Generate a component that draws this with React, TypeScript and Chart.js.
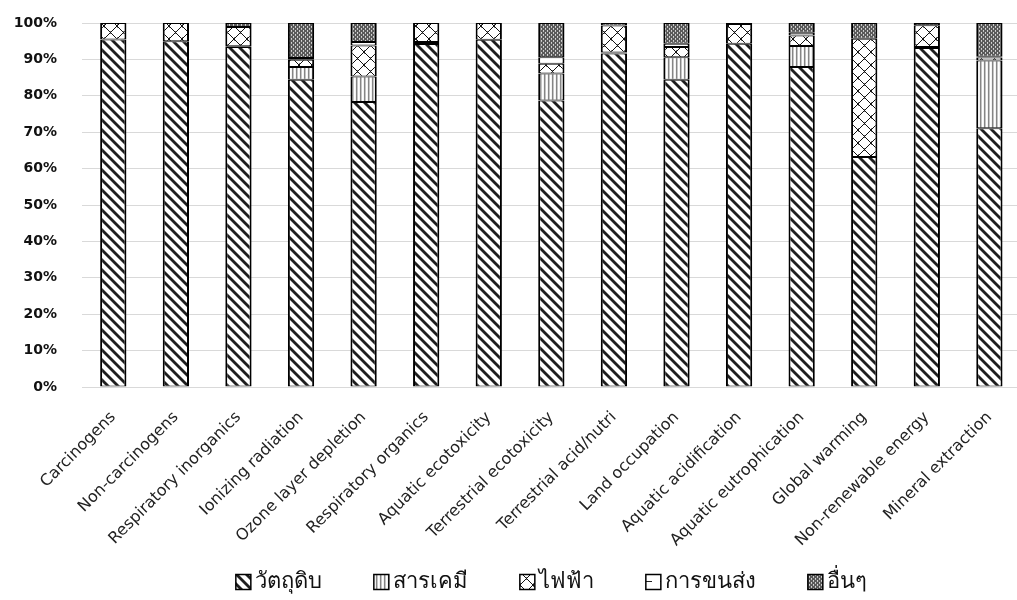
import React, { useEffect, useRef } from "react";
import { Chart, registerables } from "chart.js";

Chart.register(...registerables);

// Impact categories (x axis)
const categories = [
  "Carcinogens",
  "Non-carcinogens",
  "Respiratory inorganics",
  "Ionizing radiation",
  "Ozone layer depletion",
  "Respiratory organics",
  "Aquatic ecotoxicity",
  "Terrestrial ecotoxicity",
  "Terrestrial acid/nutri",
  "Land occupation",
  "Aquatic acidification",
  "Aquatic eutrophication",
  "Global warming",
  "Non-renewable energy",
  "Mineral extraction",
];

// Series names
const seriesNames = ["วัตถุดิบ", "สารเคมี", "ไฟฟ้า", "การขนส่ง", "อื่นๆ"];

// Share of each impact (%) per source
const rawMaterial = [95.5, 95.0, 93.4, 84.4, 78.3, 94.2, 95.4, 78.7, 91.6, 84.4, 94.3, 87.9, 63.2, 93.1, 71.1];
const chemicals = [0, 0, 0.2, 3.5, 7.0, 0.6, 0, 7.4, 0.3, 6.2, 0, 5.8, 0, 0.3, 18.6];
const electricity = [4.5, 5.0, 5.3, 2.0, 8.5, 5.2, 4.6, 2.7, 7.4, 2.8, 5.4, 2.9, 32.5, 6.0, 0.8];
const transport = [0, 0, 0, 0.5, 1.0, 0, 0, 1.8, 0, 0.9, 0, 0.7, 0, 0, 0.2];
const others = [0, 0, 1.1, 9.6, 5.2, 0, 0, 9.4, 0.7, 5.7, 0.3, 2.7, 4.3, 0.6, 9.3];

// Y axis ticks
const yTicks = [0, 10, 20, 30, 40, 50, 60, 70, 80, 90, 100];

function makeTile(w: number, h: number, paint: (ctx: CanvasRenderingContext2D) => void) {
  const c = document.createElement("canvas");
  c.width = w;
  c.height = h;
  const ctx = c.getContext("2d")!;
  paint(ctx);
  return ctx.createPattern(c, "repeat")!;
}

function px(ctx: CanvasRenderingContext2D, x: number, y: number, color: string) {
  ctx.fillStyle = color;
  ctx.fillRect(x, y, 1, 1);
}

// wide "\" stripes
function diagonalStripes() {
  const n = 10;
  return makeTile(n, n, (ctx) => {
    ctx.fillStyle = "#ffffff";
    ctx.fillRect(0, 0, n, n);
    for (let y = 0; y < n; y++) {
      for (let x = 0; x < n; x++) {
        const d = (((x - y) % n) + n) % n;
        if (d >= 1 && d <= 3) px(ctx, x, y, "#1e1e1e");
        else if (d === 0 || d === 4) px(ctx, x, y, "#8c8c8c");
      }
    }
  });
}

// narrow vertical lines
function verticalLines() {
  return makeTile(4, 1, (ctx) => {
    px(ctx, 0, 0, "#858585");
    px(ctx, 1, 0, "#c4c4c4");
    px(ctx, 2, 0, "#ffffff");
    px(ctx, 3, 0, "#f2f2f2");
  });
}

// outlined diamonds
function diamondLattice() {
  const n = 13;
  return makeTile(n, n, (ctx) => {
    ctx.fillStyle = "#ffffff";
    ctx.fillRect(0, 0, n, n);
    for (let i = 0; i < n; i++) {
      px(ctx, i, i, "#111111");
      px(ctx, n - 1 - i, i, "#111111");
    }
    px(ctx, 6, 5, "#777777");
    px(ctx, 6, 7, "#777777");
    px(ctx, 0, 1, "#777777");
    px(ctx, 0, n - 2, "#777777");
  });
}

// white with a few short dashes
function sparseDashes() {
  return makeTile(14, 14, (ctx) => {
    ctx.fillStyle = "#ffffff";
    ctx.fillRect(0, 0, 14, 14);
    for (let x = 2; x < 8; x++) px(ctx, x, 7, "#222222");
  });
}

// dark grey with light dots
function dottedGrid() {
  return makeTile(4, 4, (ctx) => {
    ctx.fillStyle = "#5a5a5a";
    ctx.fillRect(0, 0, 4, 4);
    px(ctx, 1, 0, "#d6d6d6");
    px(ctx, 1, 1, "#c0c0c0");
    px(ctx, 3, 2, "#d6d6d6");
    px(ctx, 3, 3, "#c0c0c0");
  });
}

// Single-row legend centred under the plot area
const legendFont = "22px 'DejaVu Sans', 'Noto Sans', sans-serif";
const legendBox = 15;
const legendTextGap = 4;
const legendItemGap = 52;
const legendCenterY = 582;

const bottomLegend = {
  id: "bottomLegend",
  afterDraw(chart: any) {
    const { ctx, chartArea } = chart;
    const datasets = chart.data.datasets;
    ctx.save();
    ctx.font = legendFont;
    const widths = datasets.map((d: any) => ctx.measureText(d.label).width);
    const total =
      widths.reduce((s: number, w: number) => s + legendBox + legendTextGap + w, 0) +
      legendItemGap * (datasets.length - 1);
    let x = (chartArea.left + chartArea.right) / 2 - total / 2;
    datasets.forEach((d: any, i: number) => {
      const top = legendCenterY - legendBox / 2;
      ctx.fillStyle = d.backgroundColor;
      ctx.fillRect(x, top, legendBox, legendBox);
      ctx.lineWidth = 1.5;
      ctx.strokeStyle = "#000000";
      ctx.strokeRect(x, top, legendBox, legendBox);
      ctx.fillStyle = "#111111";
      ctx.textAlign = "left";
      ctx.textBaseline = "middle";
      ctx.fillText(d.label, x + legendBox + legendTextGap, legendCenterY);
      x += legendBox + legendTextGap + widths[i] + legendItemGap;
    });
    ctx.restore();
  },
};

export default function App() {
  const canvasRef = useRef<HTMLCanvasElement | null>(null);

  useEffect(() => {
    const canvas = canvasRef.current;
    if (!canvas) return;

    const fills = [diagonalStripes(), verticalLines(), diamondLattice(), sparseDashes(), dottedGrid()];
    const seriesValues = [rawMaterial, chemicals, electricity, transport, others];

    const chart = new Chart(canvas, {
      type: "bar",
      data: {
        labels: categories,
        datasets: seriesNames.map((name, i) => ({
          label: name,
          data: seriesValues[i],
          backgroundColor: fills[i],
          borderColor: "#000000",
          borderWidth: { left: 2, right: 2, top: 1, bottom: 1 },
          borderSkipped: false,
          barPercentage: 0.84,
          categoryPercentage: 0.5,
        })),
      },
      plugins: [bottomLegend],
      options: {
        responsive: false,
        animation: false,
        layout: { padding: { top: 23, right: 1, bottom: 40, left: 0 } },
        plugins: {
          tooltip: { enabled: false },
          legend: { display: false },
        },
        scales: {
          x: {
            stacked: true,
            grid: { display: false, drawTicks: false },
            border: { display: false },
            ticks: {
              autoSkip: false,
              minRotation: 45,
              maxRotation: 45,
              padding: 21,
              color: "#222222",
              font: { family: "'DejaVu Sans', sans-serif", size: 16 },
            },
            afterFit: (scale: any) => {
              scale.height = 173;
            },
          },
          y: {
            stacked: true,
            min: 0,
            max: 100,
            afterBuildTicks: (scale: any) => {
              scale.ticks = yTicks.map((v) => ({ value: v }));
            },
            grid: {
              color: "#d9d9d9",
              lineWidth: 1,
              drawTicks: true,
              tickLength: 25,
              tickColor: "rgba(0,0,0,0)",
            },
            border: { display: false },
            ticks: {
              padding: 0,
              color: "#111111",
              font: { family: "'DejaVu Sans', sans-serif", size: 14, weight: "bold" },
              callback: (v: any) => `${v}%`,
            },
            afterFit: (scale: any) => {
              scale.width = 82;
            },
          },
        },
      },
    });

    return () => chart.destroy();
  }, []);

  return (
    <div
      style={{
        position: "absolute",
        left: 0,
        top: 0,
        width: 1017,
        height: 600,
        overflow: "hidden",
        background: "#ffffff",
      }}
    >
      <canvas ref={canvasRef} width={1024} height={600} style={{ display: "block" }} />
    </div>
  );
}
